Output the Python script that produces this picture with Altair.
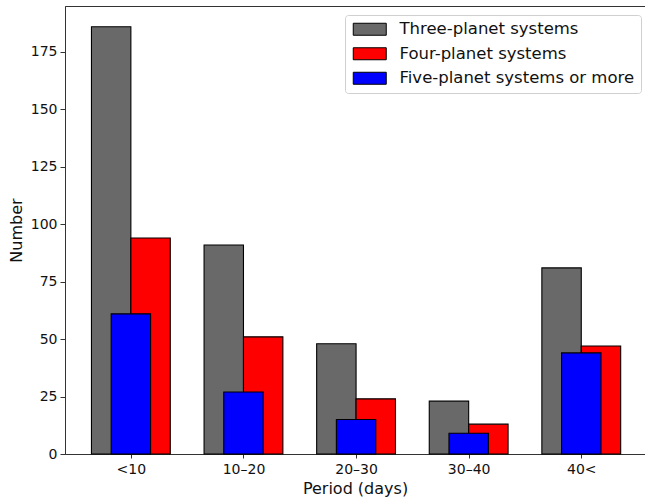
import altair as alt
import pandas as pd

categories = ["<10", "10–20", "20–30", "30–40", "40<"]
series_names = ["Three-planet systems", "Four-planet systems", "Five-planet systems or more"]
three_planet = [186, 91, 48, 23, 81]
four_planet = [94, 51, 24, 13, 47]
five_planet = [61, 27, 15, 9, 44]
series_colors = ["#696969", "#ff0000", "#0000ff"]

rows = []
for s_i, (name, vals) in enumerate(zip(series_names, [three_planet, four_planet, five_planet])):
    for c_i, (cat, v) in enumerate(zip(categories, vals)):
        rows.append({"series": name, "sidx": s_i, "idx": c_i, "category": cat, "value": v})
df = pd.DataFrame(rows)

label_expr = "[" + ",".join(f"'{c}'" for c in categories) + "][round(datum.value)]"

bars = alt.Chart(df).transform_calculate(
    off="datum.sidx == 0 ? -0.175 : (datum.sidx == 1 ? 0.175 : 0)"
).transform_calculate(
    x0="datum.idx + datum.off - 0.175",
    x1="datum.idx + datum.off + 0.175",
    base="0",
).mark_bar(stroke="black", strokeWidth=1.1, opacity=1).encode(
    x=alt.X("x0:Q",
            scale=alt.Scale(domain=[-0.585, 4.566], nice=False, zero=False),
            axis=alt.Axis(values=[0, 1, 2, 3, 4], labelExpr=label_expr, title="Period (days)",
                          grid=False, tickSize=4, labelPadding=4, titlePadding=4)),
    x2="x1:Q",
    y=alt.Y("value:Q", stack=None,
            scale=alt.Scale(domain=[0, 195], nice=False),
            axis=alt.Axis(values=[0, 25, 50, 75, 100, 125, 150, 175], title="Number",
                          grid=False, tickSize=5, labelPadding=3, titlePadding=6)),
    y2="base:Q",
    color=alt.Color("series:N",
                    scale=alt.Scale(domain=series_names, range=series_colors),
                    sort=series_names,
                    legend=alt.Legend(
                        title=None, orient="none", legendX=280, legendY=9,
                        symbolType="M-1,-1H4.5V1H-1Z", symbolSize=144,
                        symbolStrokeColor="black", symbolStrokeWidth=1, symbolOpacity=1,
                        labelFontSize=16.5, labelFont="DejaVu Sans", labelColor="#111",
                        labelOffset=32, rowPadding=7.5, padding=6,
                        fillColor="white", strokeColor="#d0d0d0", cornerRadius=3,
                        labelLimit=400)),
    order=alt.Order("sidx:Q"),
)

chart = bars.properties(
    width=580, height=448,
    autosize=alt.AutoSizeParams(type="none"),
    padding={"left": 65, "top": 6, "right": 0, "bottom": 48},
).configure_view(
    stroke="#333", strokeWidth=1
).configure_axis(
    domainColor="#333", tickColor="#333", labelColor="#111", titleColor="#111",
    labelFont="DejaVu Sans", titleFont="DejaVu Sans",
    labelFontSize=14, titleFontSize=16, titleFontWeight="normal",
    domainWidth=1, tickWidth=1,
)

chart.save("out.html", embed_options={"renderer": "svg", "actions": False})
